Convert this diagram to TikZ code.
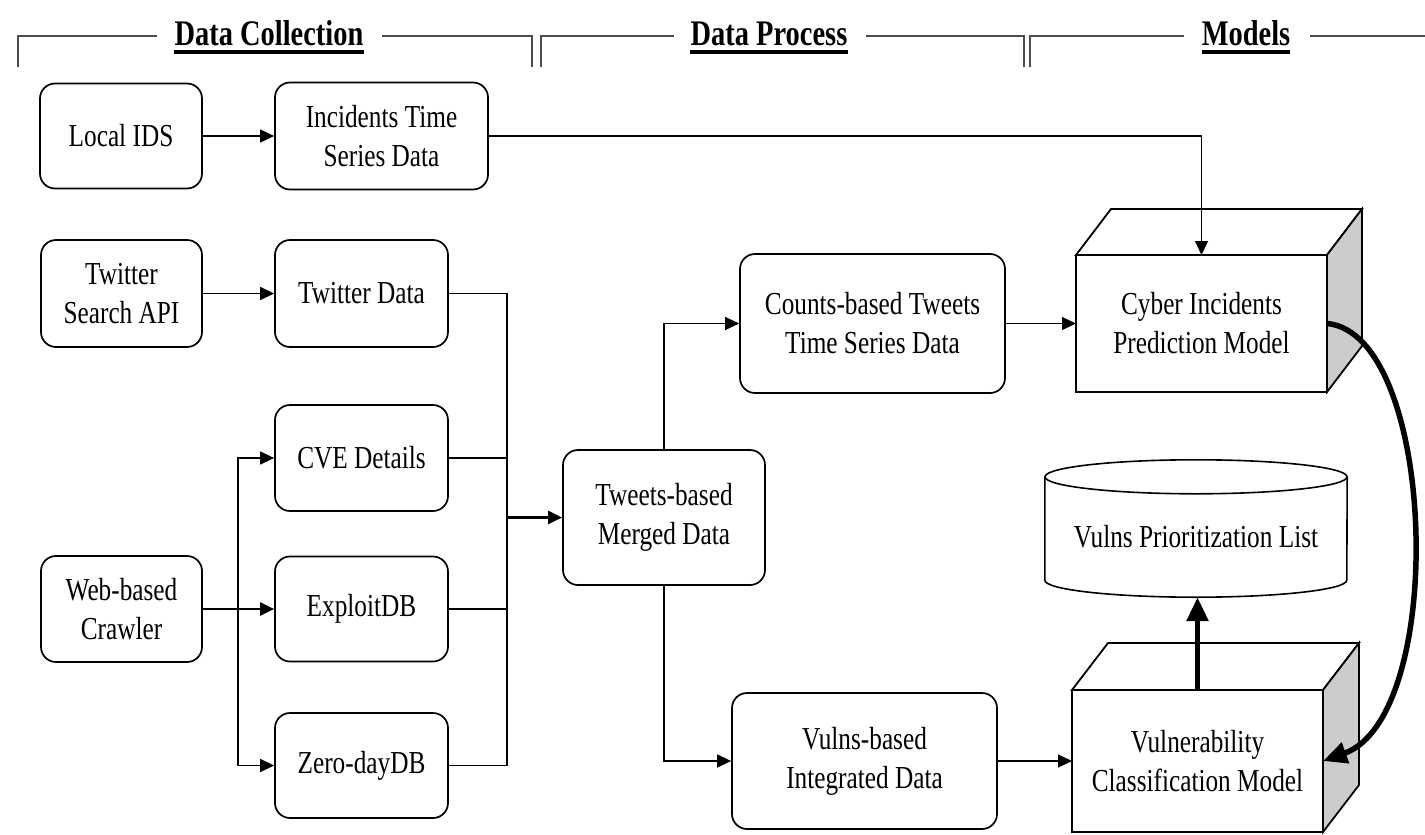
\documentclass[tikz,border=0pt]{standalone}
\usepackage{fontspec}
\setmainfont{Liberation Serif}[FakeStretch=0.79]
\usetikzlibrary{arrows.meta,calc}
\begin{document}
\begin{tikzpicture}[x=1pt,y=-1pt,
  box/.style={draw, line width=1.7pt, rounded corners=15pt, align=center, inner sep=0pt,
              font=\fontsize{32}{39}\selectfont},
  front/.style={draw, line width=1.8pt, fill=white, align=center, inner sep=0pt, outer sep=0pt,
              font=\fontsize{32}{39}\selectfont},
  face/.style={draw, line width=1.8pt, line join=miter},
  hdr/.style={inner sep=0pt, anchor=base, font=\fontsize{36}{40}\selectfont\bfseries},
  bracket/.style={draw=black!70, line width=1.5pt},
  link/.style={line width=1.2pt},
  arr/.style={link, -{Triangle[length=14pt,width=13pt]}},
  boldarr/.style={line width=2.2pt, -{Triangle[length=14pt,width=13pt]}},
  thickarr/.style={line width=5.5pt, -{Triangle[length=24pt,width=21pt]}},
]
\useasboundingbox (0,0) rectangle (1425,835);

% ---- section headers with their brackets ----
\node[hdr] (h1) at (269,45) {Data Collection};
\node[hdr] (h2) at (769,45) {Data Process};
\node[hdr] (h3) at (1246,45) {Models};
\foreach \h in {h1,h2,h3}
  \draw[line width=3.5pt] ($(\h.base west)+(0,7)$) -- ($(\h.base east)+(0,7)$);

\draw[bracket] (18,67) -- (18,36) -- (157,36);
\draw[bracket] (382,36) -- (532,36) -- (532,67);
\draw[bracket] (541,67) -- (541,36) -- (674,36);
\draw[bracket] (866,36) -- (1024,36) -- (1024,67);
\draw[bracket] (1030,67) -- (1030,36) -- (1184,36);
\draw[bracket] (1310,36) -- (1425,36);

% ---- data collection ----
\node[box, minimum width=162pt, minimum height=105pt] (localids) at (121,136) {Local IDS};
\node[box, minimum width=213pt, minimum height=107pt] (incid) at (381.5,136) {Incidents Time\\Series Data};
\node[box, minimum width=161pt, minimum height=107pt] (twapi) at (121.5,293.5) {Twitter\\Search API};
\node[box, minimum width=173pt, minimum height=107pt] (twdata) at (361.5,293.5) {Twitter Data};
\node[box, minimum width=161pt, minimum height=106pt] (crawler) at (121.5,609) {Web-based\\Crawler};
\node[box, minimum width=173pt, minimum height=106pt] (cve) at (361.5,458) {CVE Details};
\node[box, minimum width=173pt, minimum height=105pt] (exploit) at (361.5,609) {ExploitDB};
\node[box, minimum width=173pt, minimum height=105pt] (zeroday) at (361.5,765.5) {Zero-dayDB};

% ---- data process ----
\node[box, minimum width=202pt, minimum height=135pt] (merged) at (664,517.5) {Tweets-based\\Merged Data};
\node[box, minimum width=265pt, minimum height=139pt] (counts) at (872.5,323.5) {Counts-based Tweets\\Time Series Data};
\node[box, minimum width=265pt, minimum height=136pt] (vulnsint) at (864.5,761) {Vulns-based\\Integrated Data};

% ---- models (boxes drawn as cubes) ----
\node[front, minimum width=251pt, minimum height=137pt] (cyber) at (1201.5,323.5) {Cyber Incidents\\Prediction Model};
\draw[face, fill=white] (cyber.north west) -- ++(35,-46) -- ++(251,0) -- (cyber.north east) -- cycle;
\draw[face, fill=black!20] (cyber.north east) -- ++(35,-46) -- ++(0,137) -- (cyber.south east) -- cycle;

\node[front, minimum width=251pt, minimum height=142pt] (vuln) at (1197.5,761) {Vulnerability\\Classification Model};
\draw[face, fill=white] (vuln.north west) -- ++(36,-47) -- ++(251,0) -- (vuln.north east) -- cycle;
\draw[face, fill=black!20] (vuln.north east) -- ++(36,-47) -- ++(0,142) -- (vuln.south east) -- cycle;

% ---- output store (cylinder) ----
\node[inner sep=0pt, minimum width=302pt, minimum height=120pt, font=\fontsize{32}{39}\selectfont]
  (db) at (1196,537) {Vulns Prioritization List};
\draw[line width=1.6pt] (db.north west) -- ($(db.south west)+(0,-17)$)
  arc[start angle=180, end angle=360, x radius=151pt, y radius=17pt] -- (db.north east);
\draw[line width=1.6pt, fill=white] (db.north) ellipse [x radius=151pt, y radius=17pt];

% ---- connectors ----
\coordinate (br) at (238,609);
\coordinate (mg) at (507,517.5);

\draw[arr] (localids) -- (incid);
\draw[arr] (incid.east) -| (cyber.north);
\draw[arr] (twapi) -- (twdata);

\draw[line width=2.2pt] (crawler.east) -- (br);
\draw[boldarr] (br) -- (exploit.west);
\draw[arr] (br) |- (cve.west);
\draw[arr] (br) |- (zeroday.west);

\draw[link] (twdata.east) -| (mg);
\draw[link] (cve.east) -| (mg);
\draw[link] (exploit.east) -| (mg);
\draw[link] (zeroday.east) -| (mg);
\draw[boldarr] (mg) -- (merged.west);

\draw[arr] (merged.north) |- (counts.west);
\draw[arr] (merged.south) |- (vulnsint.west);
\draw[arr] (counts) -- (cyber);
\draw[arr] (vulnsint) -- (vuln);

\draw[thickarr] (vuln.north) -- (vuln.north |- db.south);
\draw[thickarr] (cyber.east) .. controls +(110,10) and +(125,-45) .. (vuln.east);
\end{tikzpicture}
\end{document}
